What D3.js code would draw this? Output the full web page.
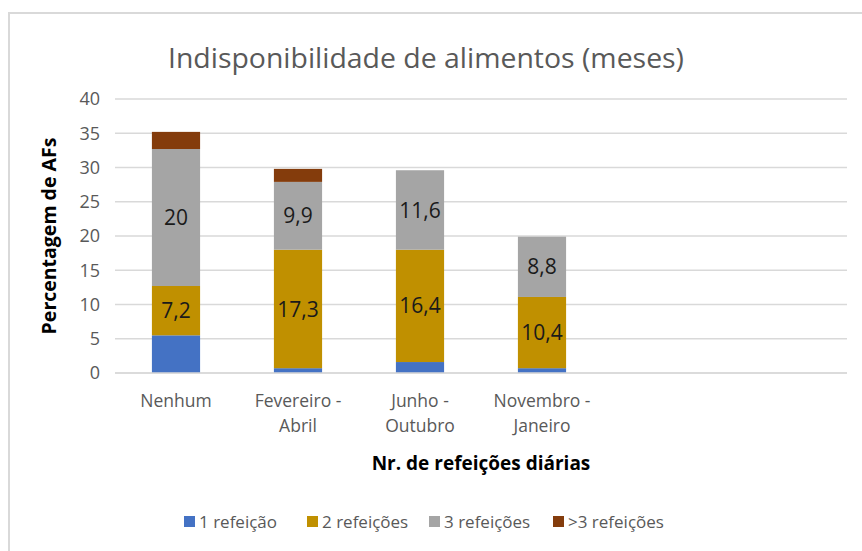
<!DOCTYPE html>
<html>
<head>
<meta charset="utf-8">
<script src="https://cdn.jsdelivr.net/npm/d3@7"></script>
<style>
  body { margin: 0; background: #fff; }
  text { font-family: "Open Sans", sans-serif; }
</style>
</head>
<body>
<div id="chart"></div>
<script>
// data
var categories = ["Nenhum", "Fevereiro - Abril", "Junho - Outubro", "Novembro - Janeiro", "", " "];
var seriesNames = ["1 refeição", "2 refeições", "3 refeições", ">3 refeições"];
var umaRefeicao = [5.5, 0.7, 1.6, 0.7, 0, 0];
var duasRefeicoes = [7.2, 17.3, 16.4, 10.4, 0, 0];
var tresRefeicoes = [20, 9.9, 11.6, 8.8, 0, 0];
var maisTres = [2.5, 1.9, 0, 0, 0, 0];
var yTicks = [0, 5, 10, 15, 20, 25, 30, 35, 40];
var colors = ["#4472c4", "#c09000", "#a5a5a5", "#843c0c"];
var labelled = [false, true, true, false];

var W = 862, H = 551;
var margin = {top: 99, right: 15, bottom: 178, left: 115},
    width = W - margin.left - margin.right,
    height = H - margin.top - margin.bottom;

var root = d3.select("#chart").append("svg")
  .attr("width", W)
  .attr("height", H);

// chart frame (only left and top edges visible)
root.append("path")
  .attr("d", "M9," + H + " V13 H" + W)
  .attr("fill", "none")
  .attr("stroke", "#d9d9d9")
  .attr("stroke-width", 2);

root.append("text")
  .attr("x", 426)
  .attr("y", 68)
  .attr("text-anchor", "middle")
  .attr("font-size", 27)
  .attr("textLength", 516)
  .attr("lengthAdjust", "spacingAndGlyphs")
  .attr("fill", "#595959")
  .text("Indisponibilidade de alimentos (meses)");

var svg = root.append("g")
  .attr("transform", "translate(" + margin.left + "," + margin.top + ")");

var table = categories.map(function(c, i) {
  return {cat: c, s0: umaRefeicao[i], s1: duasRefeicoes[i], s2: tresRefeicoes[i], s3: maisTres[i]};
});
var stack = d3.stack().keys(["s0", "s1", "s2", "s3"])(table);

var x = d3.scaleBand()
  .domain(categories)
  .range([0, width])
  .paddingInner(0.605)
  .paddingOuter(0.3025);

var y = d3.scaleLinear()
  .domain([0, 40])
  .range([height, 0]);

// gridlines
svg.append("g")
  .selectAll("line")
  .data(yTicks)
  .enter().append("line")
    .attr("x1", 0)
    .attr("x2", width)
    .attr("y1", function(d) { return y(d); })
    .attr("y2", function(d) { return y(d); })
    .attr("stroke", "#d9d9d9")
    .attr("stroke-width", 1.3);

// y axis labels
var yAxis = svg.append("g")
  .call(d3.axisLeft(y).tickValues(yTicks).tickSize(0).tickPadding(15));
yAxis.select(".domain").remove();
yAxis.selectAll("text")
  .attr("font-family", "'Open Sans', sans-serif")
  .attr("font-size", 18)
  .attr("fill", "#595959");

// bars
var layers = svg.selectAll(".layer")
  .data(stack)
  .enter().append("g")
    .attr("fill", function(d, i) { return colors[i]; });

layers.selectAll("rect")
  .data(function(d) { return d; })
  .enter().append("rect")
    .attr("x", function(d) { return x(d.data.cat); })
    .attr("width", x.bandwidth())
    .attr("y", function(d) { return y(d[1]); })
    .attr("height", function(d) { return y(d[0]) - y(d[1]); });

// data labels for 2 and 3 refeições
stack.forEach(function(layer, i) {
  if (!labelled[i]) return;
  svg.append("g").selectAll("text")
    .data(layer.filter(function(d) { return d[1] - d[0] > 0; }))
    .enter().append("text")
      .attr("x", function(d) { return x(d.data.cat) + x.bandwidth() / 2; })
      .attr("y", function(d) { return (y(d[0]) + y(d[1])) / 2; })
      .attr("dy", "0.36em")
      .attr("text-anchor", "middle")
      .attr("font-size", 21)
      .attr("fill", "#1a1a1a")
      .text(function(d) { return String(+(d[1] - d[0]).toFixed(1)).replace(".", ","); });
});

// x axis baseline
svg.append("line")
  .attr("x1", 0).attr("x2", width)
  .attr("y1", height).attr("y2", height)
  .attr("stroke", "#d9d9d9")
  .attr("stroke-width", 1.5);

// x axis labels (two lines)
var xl = svg.append("g").selectAll("text")
  .data(categories)
  .enter().append("text")
    .attr("x", function(d) { return x(d) + x.bandwidth() / 2; })
    .attr("y", height + 34)
    .attr("text-anchor", "middle")
    .attr("font-size", 17.5)
    .attr("fill", "#595959");
xl.each(function(d) {
  var parts = d.indexOf(" - ") > 0 ? [d.split(" - ")[0] + " -", d.split(" - ")[1]] : [d];
  var t = d3.select(this);
  parts.forEach(function(p, k) {
    t.append("tspan")
      .attr("x", t.attr("x"))
      .attr("dy", k === 0 ? 0 : 25)
      .text(p);
  });
});

// axis titles
svg.append("text")
  .attr("x", width / 2)
  .attr("y", height + 97)
  .attr("text-anchor", "middle")
  .attr("font-size", 19)
  .attr("font-weight", "bold")
  .attr("fill", "#000")
  .text("Nr. de refeições diárias");

svg.append("text")
  .attr("transform", "translate(-59," + (height / 2) + ") rotate(-90)")
  .attr("text-anchor", "middle")
  .attr("font-size", 19.5)
  .attr("font-weight", "bold")
  .attr("fill", "#000")
  .text("Percentagem de AFs");

// legend
var legendX = [184, 307, 429, 553];
var legend = root.append("g").selectAll("g")
  .data(seriesNames)
  .enter().append("g")
    .attr("transform", function(d, i) { return "translate(" + legendX[i] + ",522)"; });
legend.append("rect")
  .attr("x", 0).attr("y", -6)
  .attr("width", 11).attr("height", 11)
  .attr("fill", function(d, i) { return colors[i]; });
legend.append("text")
  .attr("x", 15)
  .attr("y", 0)
  .attr("dy", "0.35em")
  .attr("font-size", 17)
  .attr("fill", "#595959")
  .text(function(d) { return d; });
</script>
</body>
</html>
